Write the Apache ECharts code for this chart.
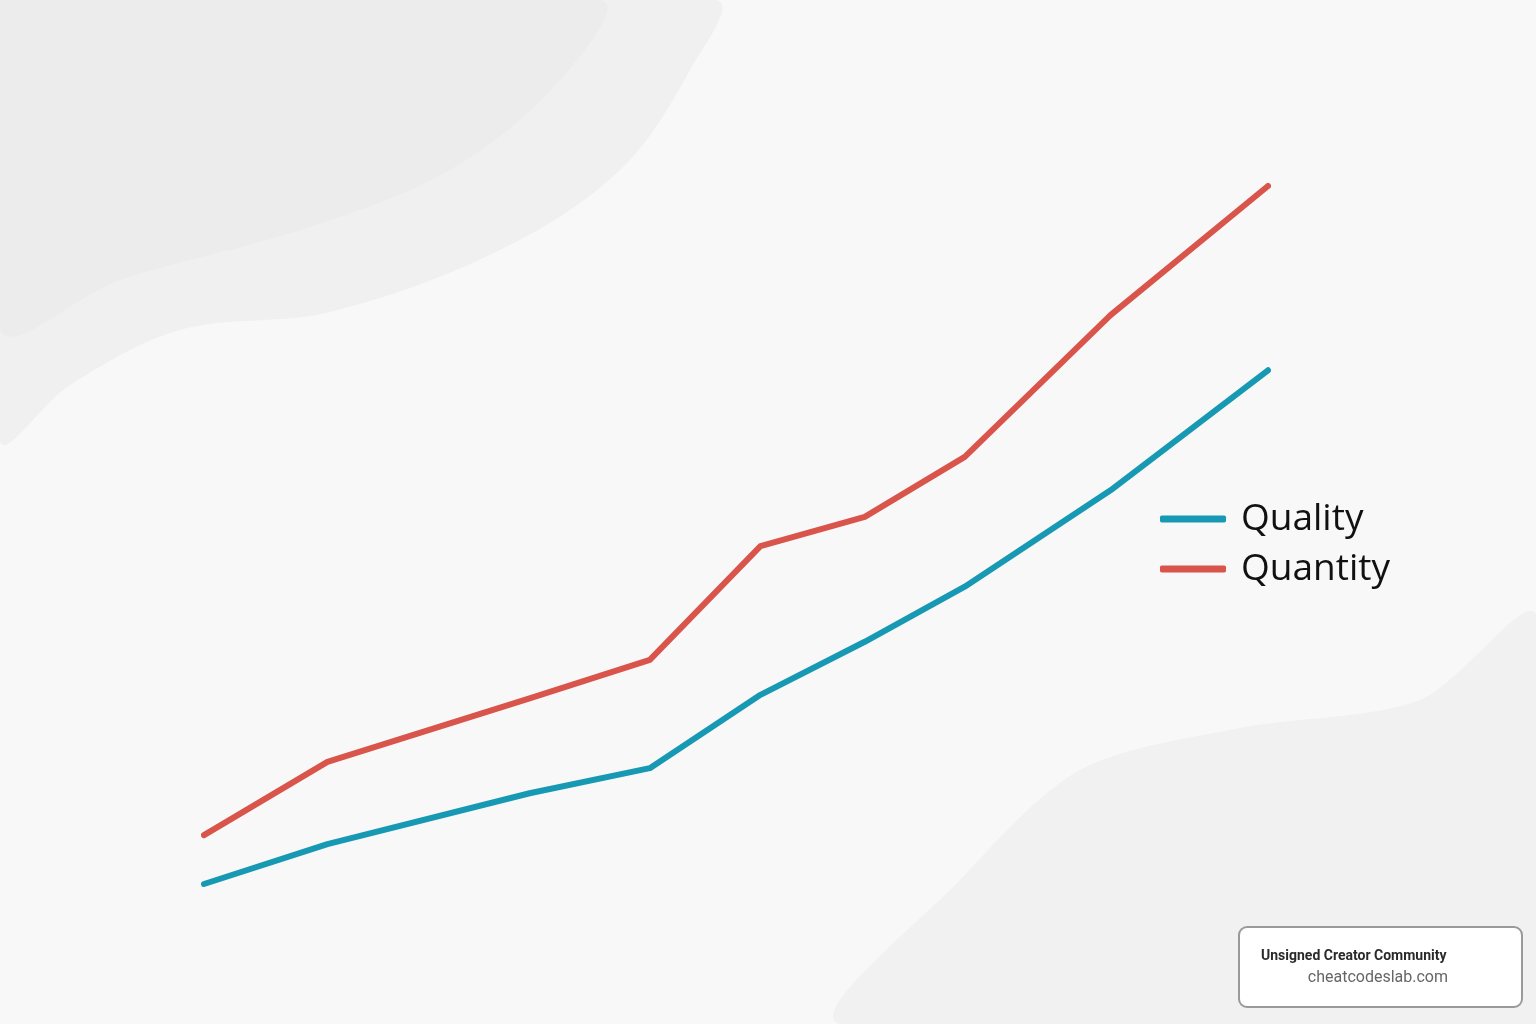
<!DOCTYPE html>
<html>
<head>
<meta charset="utf-8">
<script src="https://cdn.jsdelivr.net/npm/echarts@6/dist/echarts.min.js"></script>
<style>html,body{margin:0;padding:0;}#c{width:1536px;height:1024px;}</style>
</head>
<body>
<div id="c"></div>
<script>
// Data (x position along the timeline, 0-100; y values 0-100)
const xPositions = [0, 11.6, 30.6, 41.9, 52.3, 62.1, 71.5, 85.2, 100];
const qualityValues = [0, 5.7, 13.0, 16.6, 27.1, 34.7, 42.6, 56.4, 73.6];
const quantityValues = [7.0, 17.5, 26.6, 32.1, 48.4, 52.6, 61.2, 81.5, 100];
const seriesNames = ['Quality', 'Quantity'];

const chart = echarts.init(document.getElementById('c'));
const pair = (xs, ys) => xs.map((x, i) => [x, ys[i]]);

chart.setOption({
  backgroundColor: '#f8f8f8',
  animation: false,
  graphic: [
    { type: 'polygon', silent: true, z: -10,
      shape: { points: [[0,0],[715,0],[690,70],[620,170],[500,250],[330,312],[180,330],[70,385],[0,440]], smooth: 0.35 },
      style: { fill: '#f0f0f0' } },
    { type: 'polygon', silent: true, z: -10,
      shape: { points: [[0,0],[600,0],[560,80],[450,170],[300,230],[120,280],[0,330]], smooth: 0.35 },
      style: { fill: '#ececec' } },
    { type: 'polygon', silent: true, z: -10,
      shape: { points: [[1536,615],[1420,700],[1240,728],[1080,770],[960,880],[840,1024],[1536,1024]], smooth: 0.3 },
      style: { fill: '#f1f1f1' } },
    { type: 'group', left: 1238, top: 926, children: [
      { type: 'rect', shape: { x: 0, y: 0, width: 283, height: 80, r: 8 },
        style: { fill: '#ffffff', stroke: '#9a9a9a', lineWidth: 2 } },
      { type: 'text', x: 22, y: 22,
        style: { text: 'Unsigned Creator Community', fill: '#2a2a2a', font: 'bold 14px Roboto' } },
      { type: 'text', x: 209, y: 43,
        style: { text: 'cheatcodeslab.com', fill: '#666666', font: '16px Roboto', align: 'right' } }
    ]}
  ],
  legend: {
    orient: 'vertical',
    left: 1160,
    top: 498,
    padding: 0,
    itemWidth: 66,
    itemHeight: 7,
    itemGap: 8,
    icon: 'roundRect',
    data: seriesNames,
    textStyle: { fontFamily: 'Open Sans', fontSize: 37, color: '#111', lineHeight: 42, padding: [0, 0, 0, 10] }
  },
  grid: { left: 204, right: 268, top: 186, bottom: 140 },
  xAxis: { type: 'value', min: 0, max: 100, show: false },
  yAxis: { type: 'value', min: 0, max: 100, show: false },
  series: [
    { name: seriesNames[0], type: 'line', data: pair(xPositions, qualityValues),
      showSymbol: false, color: '#1799b4',
      lineStyle: { width: 6, cap: 'round', join: 'round' } },
    { name: seriesNames[1], type: 'line', data: pair(xPositions, quantityValues),
      showSymbol: false, color: '#d9544a',
      lineStyle: { width: 6, cap: 'round', join: 'round' } }
  ]
});
</script>
</body>
</html>
